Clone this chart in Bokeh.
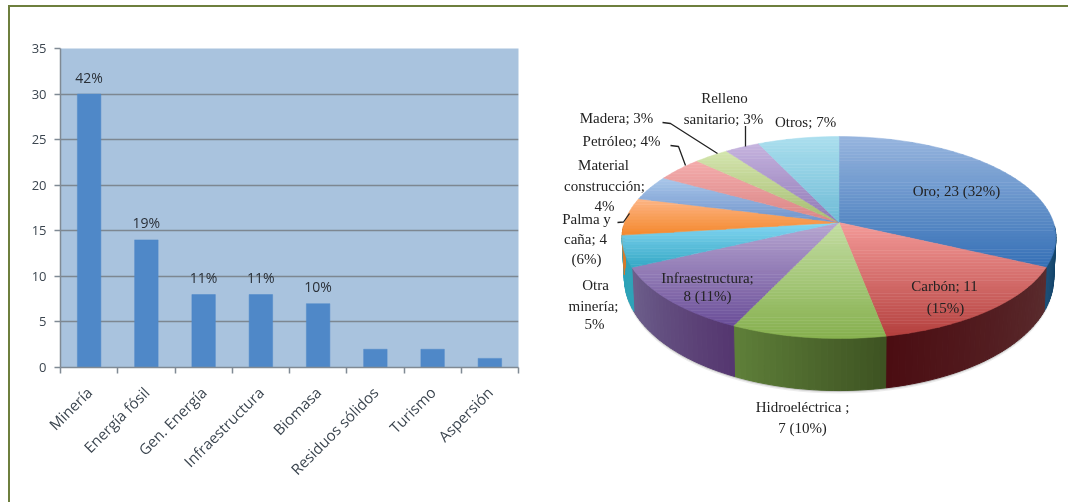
import math
import numpy as np
from bokeh.core.properties import value
from bokeh.embed import file_html
from bokeh.models import ColumnDataSource, FixedTicker, LinearAxis, Range1d
from bokeh.plotting import figure
from bokeh.resources import INLINE

# ---------- data ----------
bar_categories = ["Minería", "Energía fósil", "Gen. Energía", "Infraestructura",
                  "Biomasa", "Residuos sólidos", "Turismo", "Aspersión"]
bar_values = [30, 14, 8, 8, 7, 2, 2, 1]
bar_labels = ["42%", "19%", "11%", "11%", "10%", "", "", ""]
y_ticks = [0, 5, 10, 15, 20, 25, 30, 35]

pie_names = ["Oro", "Carbón", "Hidroeléctrica", "Infraestructura", "Otra minería", "Palma y caña",
             "Material construcción", "Petróleo", "Madera", "Relleno sanitario", "Otros"]
pie_shares = [32, 15, 10, 11, 5, 6, 4, 4, 3, 3, 7]

pie_label_lines = ["Oro; 23 (32%)", "Carbón; 11", "(15%)", "Hidroeléctrica ;", "7 (10%)",
                   "Infraestructura;", "8 (11%)", "Otra", "minería;", "5%", "Palma y", "caña; 4", "(6%)",
                   "Material", "construcción;", "4%", "Petróleo; 4%", "Madera; 3%", "Relleno",
                   "sanitario; 3%", "Otros; 7%"]

# ---------- styles / layout ----------
top_light = ["#97b5de", "#f49b99", "#c3dda3", "#b7a6d1", "#86d7f3", "#fdb687", "#a9c7ea", "#f4acab", "#d4e5ae", "#c6b4df", "#abdfee"]
top_dark  = ["#3570b6", "#b4403e", "#86b04e", "#6a4e98", "#35a8c5", "#f4892e", "#6f93cb", "#d98586", "#a5bc70", "#8f78b5", "#6fbbd6"]
side_left  = ["#1d4f78", "#4b0d12", "#5f8039", "#6d608c", "#2ea3b8", "#d87a2a", "#6f93cb", "#c06a6a", "#8a9c5a", "#7a64a0", "#5aa8c0"]
side_right = ["#0b3a5c", "#5a2c2e", "#3d5222", "#55366f", "#2ea3b8", "#d87a2a", "#6f93cb", "#c06a6a", "#8a9c5a", "#7a64a0", "#5aa8c0"]
FRAME = "#6e7f3e"
PX0, PY0 = 10, 7      # page position of the bar figure's corner
LEFT_W, RIGHT_W, FIG_H = 532, 526, 497
TXT = "#3c4650"
SANS = "Open Sans"
SERIF = "Liberation Serif"
SOFT = "blur(0.55px)"

# ---------- bar chart ----------
n = len(bar_categories)
slots = [i + 0.5 for i in range(n)]
bar = figure(width=LEFT_W, height=FIG_H, x_range=Range1d(0, n),
             y_range=Range1d(0, 35), output_backend="svg", toolbar_location=None,
             x_axis_location=None, y_axis_location=None,
             min_border_left=60 - PX0, min_border_right=PX0 + LEFT_W - 518,
             min_border_top=48 - PY0, min_border_bottom=PY0 + FIG_H - 367,
             styles={"position": "absolute", "left": f"{PX0 - 2}px", "top": f"{PY0 - 2}px", "filter": SOFT,
                     "border-top": f"2px solid {FRAME}", "border-left": f"2px solid {FRAME}"})
bar.outline_line_color = None
bar.background_fill_color = "#a9c3de"
bar.xgrid.visible = False
bar.ygrid.ticker = FixedTicker(ticks=y_ticks)
bar.ygrid.grid_line_color = "#7d8791"
bar.ygrid.grid_line_width = 1.5
yax = LinearAxis(ticker=FixedTicker(ticks=y_ticks), major_tick_in=0, major_tick_out=6, minor_tick_out=0, minor_tick_in=0,
                 axis_line_color="#808a94", axis_line_width=1.5, major_tick_line_color="#808a94", major_tick_line_width=1.5,
                 major_label_text_font=SANS, major_label_text_font_size="13px", major_label_text_color=TXT,
                 major_label_standoff=8)
bar.add_layout(yax, "left")
tickax = LinearAxis(ticker=FixedTicker(ticks=list(range(n + 1))),
                    major_tick_in=0, major_tick_out=6, minor_tick_in=0, minor_tick_out=0,
                    axis_line_color="#808a94", axis_line_width=1.5, major_tick_line_color="#808a94", major_tick_line_width=1.5,
                    major_label_overrides={i: "" for i in range(n + 1)},
                    major_label_text_font_size="1px", major_label_standoff=0)
bar.add_layout(tickax, "below")
catax = LinearAxis(ticker=FixedTicker(ticks=slots), major_tick_in=0, major_tick_out=0, minor_tick_in=0, minor_tick_out=0,
                   axis_line_color=None, major_label_orientation=math.pi / 4,
                   major_label_overrides=dict(zip(slots, bar_categories)),
                   major_label_text_font=SANS, major_label_text_font_size="15px", major_label_text_color=TXT,
                   major_label_standoff=16)
bar.add_layout(catax, "below")
src = ColumnDataSource(dict(x=slots, top=bar_values, lab=bar_labels))
bar.vbar(x="x", top="top", bottom=0, width=0.41, source=src, fill_color="#4f88c8", line_color="#4f88c8", line_width=0.5)
bar.text(x="x", y="top", text="lab", source=src, y_offset=-17, text_align="center", text_baseline="middle",
         text_font=value(SANS), text_font_size="14px", text_color="#2a3038")

# ---------- pie chart: a tilted disc drawn through a perspective mapping ----------
PIE_X0 = PX0 + LEFT_W - 2
pie = figure(width=RIGHT_W + 2, height=FIG_H,
             x_range=Range1d(PIE_X0, PIE_X0 + RIGHT_W + 2), y_range=Range1d(PY0 + FIG_H, PY0),
             output_backend="svg", toolbar_location=None, x_axis_location=None, y_axis_location=None,
             min_border=0, min_border_left=0, min_border_right=0, min_border_top=0, min_border_bottom=0,
             styles={"position": "absolute", "left": f"{PIE_X0}px", "top": f"{PY0 - 2}px", "filter": SOFT,
                     "border-top": f"2px solid {FRAME}"})
pie.outline_line_color = None
pie.grid.visible = False

AX, AY, RX, RY, K = 838.5, 222.0, 214.5, 98.8, 0.1486

def rim(deg, depth=False):
    th = np.radians(deg)
    u, v = np.sin(th), np.cos(th)
    d = 1 + K * v
    x = AX + RX * u / d
    y = AY - RY * v / d
    if depth:
        x = AX + (x - AX) * 0.99
        y = y + 38 - 14 * v
    return x, y

def mix(a, b, t):
    ca = [int(a[i:i + 2], 16) for i in (1, 3, 5)]
    cb = [int(b[i:i + 2], 16) for i in (1, 3, 5)]
    return "#%02x%02x%02x" % tuple(int(round(p + (q - p) * t)) for p, q in zip(ca, cb))

def clip_band(pts, y0, y1):
    def clip(poly, keep, cross):
        out = []
        for i in range(len(poly)):
            a, b = poly[i], poly[(i + 1) % len(poly)]
            if keep(a):
                out.append(a)
            if keep(a) != keep(b):
                t = (cross - a[1]) / (b[1] - a[1])
                out.append((a[0] + (b[0] - a[0]) * t, cross))
        return out
    r = clip(pts, lambda p: p[1] >= y0, y0)
    if r:
        r = clip(r, lambda p: p[1] <= y1, y1)
    return r

edges = np.cumsum([0] + pie_shares) * 360.0 / sum(pie_shares)

# soft shadow under the disc
sh = np.arange(90, 271, 3.0)
for off, alpha in ((3.0, 0.10), (1.5, 0.22)):
    sx, sy = rim(sh, True)
    tx, ty = rim(sh[::-1], False)
    pie.patch(np.r_[sx, tx], np.r_[sy + off, ty], fill_color="#444444", fill_alpha=alpha, line_color=None)

# side wall
xs, ys, cs = [], [], []
for i in range(len(pie_shares)):
    a0, a1 = max(edges[i], 92.0), min(edges[i + 1], 268.0)
    if a1 <= a0:
        continue
    grid = np.linspace(a0, a1, max(int((a1 - a0) / 1.5), 1) + 1)
    for j in range(len(grid) - 1):
        g = [grid[j], grid[j + 1]]
        tx, ty = rim(np.array(g))
        bx, by = rim(np.array(g), True)
        t = 1 - (j + 0.5) / (len(grid) - 1)
        xs.append([float(tx[0]), float(tx[1]), float(bx[1]), float(bx[0])])
        ys.append([float(ty[0]), float(ty[1]), float(by[1]), float(by[0])])
        cs.append(mix(side_left[i], side_right[i], t))
pie.patches(xs, ys, fill_color=cs, line_color=cs, line_width=1.0)

# top faces, each with its own vertical shading
xs, ys, cs = [], [], []
for i in range(len(pie_shares)):
    arc = np.linspace(edges[i], edges[i + 1], max(int(pie_shares[i] * 3.6 / 2), 3) + 1)
    ax, ay = rim(arc)
    poly = [(AX, AY)] + list(zip(ax.tolist(), ay.tolist()))
    ymin, ymax = min(p[1] for p in poly), max(p[1] for p in poly)
    bands = max(int((ymax - ymin) / 3), 2)
    cuts = np.linspace(ymin, ymax, bands + 1)
    for b in range(bands):
        part = clip_band(poly, cuts[b], cuts[b + 1])
        if len(part) >= 3:
            xs.append([p[0] for p in part])
            ys.append([p[1] for p in part])
            cs.append(mix(top_light[i], top_dark[i], (b + 0.5) / bands))
pie.patches(xs, ys, fill_color=cs, line_color=cs, line_width=0.5)

# leader lines
pie.multi_line(xs=[[745, 745], [662, 670, 717], [670, 678, 685], [617, 623, 629]],
               ys=[[125.5, 146], [122, 123, 153], [145, 146, 165], [222, 221.5, 213]],
               line_color="#222222", line_width=1.3)

lx = [956, 944, 945, 802, 802, 707, 707, 595, 593, 594, 586, 585, 586, 603, 604, 604, 621, 616, 724, 723, 805]
ly = [190.5, 285, 307, 406, 427, 277, 295.6, 284, 305, 323, 218, 238, 258, 164, 185, 205, 140, 117, 97, 118, 121]
pie.text(x=lx, y=ly, text=pie_label_lines, text_align="center", text_baseline="middle",
         text_font=value(SERIF), text_font_size="15px", text_color="#222222")

open("out.html", "w").write(file_html([bar, pie], INLINE))
